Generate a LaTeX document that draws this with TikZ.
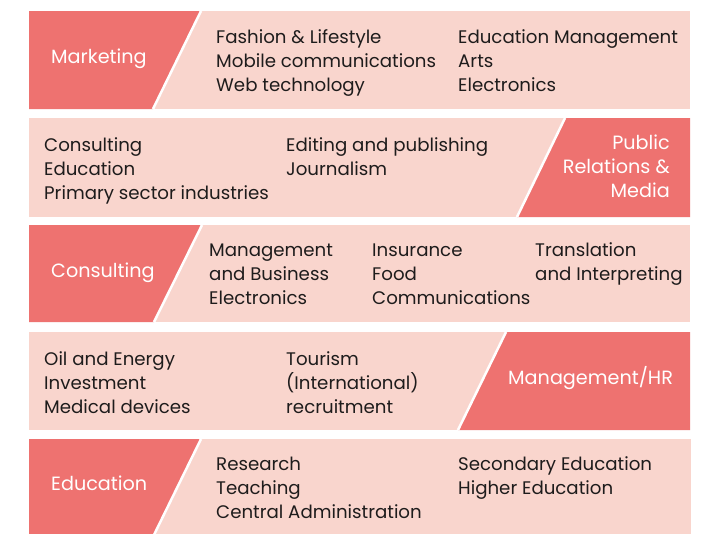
\documentclass[tikz,border=0pt]{standalone}
\usepackage{fontspec}
\setmainfont{Poppins}
\definecolor{darkc}{RGB}{238,114,112}
\definecolor{lightc}{RGB}{249,213,205}
\definecolor{txtc}{RGB}{30,28,28}
\begin{document}
\begin{tikzpicture}[x=1pt,y=-1pt,
  item/.style={anchor=base west,inner sep=0,align=left,text=txtc,font=\fontsize{18.2}{24}\selectfont},
  lab/.style={anchor=base west,inner sep=0,text=white,font=\fontsize{19.2}{24}\selectfont},
  gap/.style={draw=white,line width=2.5pt}]
\useasboundingbox (0,0) rectangle (708,533);
\clip (0,0) rectangle (708,533);
\fill[white] (0,0) rectangle (708,533);
% band 1
\fill[lightc] (29,11) rectangle (690,109);
\fill[darkc] (29,11) -- (201,11) -- (153,109) -- (29,109) -- cycle;
\draw[gap] (201,11) -- (153,109);
% band 2
\fill[lightc] (29,118) rectangle (690,217);
\fill[darkc] (565,118) -- (690,118) -- (690,217) -- (517,217) -- cycle;
\draw[gap] (565,118) -- (517,217);
% band 3
\fill[lightc] (29,225) rectangle (690,322);
\fill[darkc] (29,225) -- (202,225) -- (154,322) -- (29,322) -- cycle;
\draw[gap] (202,225) -- (154,322);
% band 4
\fill[lightc] (29,332) rectangle (690,430);
\fill[darkc] (506,332) -- (690,332) -- (690,430) -- (458,430) -- cycle;
\draw[gap] (506,332) -- (458,430);
% band 5
\fill[lightc] (29,439) rectangle (691,540);
\fill[darkc] (29,439) -- (201,439) -- (150,543) -- (29,543) -- cycle;
\draw[gap] (201,439) -- (150,543);
% labels (base anchor = baseline of last line)
\node[lab] (l1) at (51,63) {Marketing};
\node[lab,anchor=base east,align=right] (l2) at (670,197) {Public\\Relations \&\\Media};
\node[lab] (l3) at (51,277) {Consulting};
\node[lab] (l4) at (508,384) {Management/HR};
\node[lab] (l5) at (51,490) {Education};
% items
\node[item] (a1) at (216,91) {Fashion \& Lifestyle\\Mobile communications\\Web technology};
\node[item] (a2) at (458,91) {Education Management\\Arts\\Electronics};
\node[item] (b1) at (44,199) {Consulting\\Education\\Primary sector industries};
\node[item] (b2) at (286,175) {Editing and publishing\\Journalism};
\node[item] (c1) at (209,304) {Management\\and Business\\Electronics};
\node[item] (c2) at (372,304) {Insurance\\Food\\Communications};
\node[item] (c3) at (535,280) {Translation\\and Interpreting};
\node[item] (d1) at (44,413) {Oil and Energy\\Investment\\Medical devices};
\node[item] (d2) at (286,413) {Tourism\\(International)\\recruitment};
\node[item] (e1) at (216,518) {Research\\Teaching\\Central Administration};
\node[item] (e2) at (458,494) {Secondary Education\\Higher Education};
\end{tikzpicture}
\end{document}
